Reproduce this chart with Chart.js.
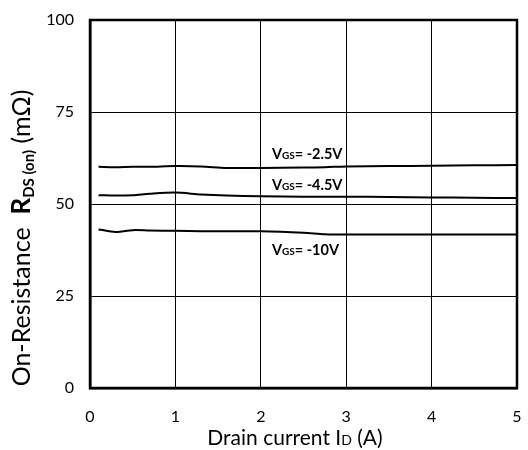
<!DOCTYPE html>
<html lang="en">
<head>
    <meta charset="UTF-8">
    <title>On-Resistance vs Drain current</title>
    <style>
        body { margin: 0; background: #fff; }
        canvas { display: block; }
    </style>
    <script src="https://cdn.jsdelivr.net/npm/chart.js"></script>
</head>
<body>
    <canvas id="rds-chart" width="528" height="450"></canvas>

    <script>
        // drain current (A) sample points
        const drainCurrent = [0.1, 0.3, 0.5, 0.7, 1.0, 1.3, 1.6, 2.0, 2.5, 2.75, 3.0, 3.5, 4.0, 4.5, 5.0];
        const rdsVgs25 = [60.1, 60.0, 60.1, 60.1, 60.3, 60.2, 59.8, 59.8, 59.9, 60.0, 60.2, 60.3, 60.4, 60.5, 60.6];
        const rdsVgs45 = [52.4, 52.3, 52.4, 52.8, 53.1, 52.6, 52.3, 52.1, 52.0, 52.0, 52.0, 51.9, 51.8, 51.7, 51.6];
        const rdsVgs10 = [43.1, 42.4, 42.9, 42.8, 42.7, 42.6, 42.6, 42.6, 42.2, 41.8, 41.7, 41.7, 41.7, 41.7, 41.7];

        const xTicks = [0, 1, 2, 3, 4, 5];
        const yTicks = [0, 25, 50, 75, 100];

        // curve labels: [gate voltage text, anchor x (A), anchor y (mΩ)]
        const curveLabels = [
            ['-2.5V', 2.13, 62.1],
            ['-4.5V', 2.13, 53.8],
            ['-10V', 2.13, 36.1],
        ];

        const FONT = 'Lato, "Open Sans", sans-serif';

        function toPoints(ys) {
            return drainCurrent.map((x, i) => ({ x: x, y: ys[i] }));
        }

        function curve(label, ys) {
            return {
                label: label,
                data: toPoints(ys),
                borderColor: '#000',
                borderWidth: 2,
                pointRadius: 0,
                tension: 0.3,
                fill: false,
            };
        }

        // draws a row of text pieces [text, font, dy] starting at x
        function drawPieces(ctx, pieces, x, y) {
            pieces.forEach(p => {
                ctx.font = p[1];
                ctx.fillText(p[0], x, y + (p[2] || 0));
                x += ctx.measureText(p[0]).width;
            });
        }

        function piecesWidth(ctx, pieces) {
            let w = 0;
            pieces.forEach(p => {
                ctx.font = p[1];
                w += ctx.measureText(p[0]).width;
            });
            return w;
        }

        const framePlugin = {
            id: 'frame',
            afterDatasetsDraw(chart) {
                const ctx = chart.ctx;
                const a = chart.chartArea;
                ctx.save();
                ctx.strokeStyle = '#000';
                ctx.lineWidth = 2.5;
                ctx.strokeRect(a.left, a.top, a.right - a.left, a.bottom - a.top);
                ctx.restore();
            }
        };

        const labelPlugin = {
            id: 'curveLabels',
            afterDatasetsDraw(chart) {
                const ctx = chart.ctx;
                const xs = chart.scales.x, ys = chart.scales.y;
                ctx.save();
                ctx.fillStyle = '#000';
                ctx.textBaseline = 'alphabetic';
                ctx.textAlign = 'left';
                curveLabels.forEach(l => {
                    drawPieces(ctx, [
                        ['V', 'bold 14.5px ' + FONT],
                        ['GS', 'bold 10px ' + FONT],
                        ['= ' + l[0], 'bold 14.5px ' + FONT],
                    ], xs.getPixelForValue(l[1]), ys.getPixelForValue(l[2]));
                });
                ctx.restore();
            }
        };

        const titlePlugin = {
            id: 'axisTitles',
            afterDraw(chart) {
                const ctx = chart.ctx;
                const a = chart.chartArea;
                ctx.save();
                ctx.fillStyle = '#000';
                ctx.textBaseline = 'alphabetic';
                ctx.textAlign = 'left';

                // x axis title
                const xt = [
                    ['Drain current I', '21px ' + FONT],
                    ['D', '14px ' + FONT],
                    [' (A)', '21px ' + FONT],
                ];
                const xw = piecesWidth(ctx, xt);
                drawPieces(ctx, xt, 295 - xw / 2, 445);

                // y axis title, rotated
                const yt = [
                    ['On-Resistance  ', '25px ' + FONT],
                    ['R', 'bold 26px ' + FONT],
                    ['DS (on)', 'bold 15px ' + FONT, 4],
                    [' (mΩ)', '25px ' + FONT],
                ];
                const yw = piecesWidth(ctx, yt);
                ctx.translate(30, 238);
                ctx.rotate(-Math.PI / 2);
                drawPieces(ctx, yt, -yw / 2, 0);
                ctx.restore();
            }
        };

        const ctx = document.getElementById('rds-chart').getContext('2d');
        const chart = new Chart(ctx, {
            type: 'line',
            data: {
                datasets: [
                    curve('VGS = -2.5V', rdsVgs25),
                    curve('VGS = -4.5V', rdsVgs45),
                    curve('VGS = -10V', rdsVgs10),
                ],
            },
            options: {
                responsive: false,
                animation: false,
                layout: { padding: { top: 20, right: 11, left: 0, bottom: 0 } },
                plugins: {
                    legend: { display: false },
                    tooltip: { enabled: false },
                },
                scales: {
                    x: {
                        type: 'linear',
                        min: 0,
                        max: 5,
                        afterBuildTicks(scale) {
                            scale.ticks = xTicks.map(v => ({ value: v }));
                        },
                        afterFit(scale) {
                            scale.height = 62;
                            scale.paddingLeft = 5;
                            scale.paddingRight = 5;
                        },
                        grid: { color: '#000', lineWidth: 1, drawTicks: false },
                        border: { color: '#000', width: 2.5 },
                        ticks: {
                            color: '#000',
                            padding: 19,
                            maxRotation: 0,
                            font: { family: FONT, size: 16 },
                        },
                    },
                    y: {
                        min: 0,
                        max: 100,
                        afterBuildTicks(scale) {
                            scale.ticks = yTicks.map(v => ({ value: v }));
                        },
                        afterFit(scale) {
                            scale.width = 90;
                            scale.paddingTop = 8;
                            scale.paddingBottom = 8;
                        },
                        grid: { color: '#000', lineWidth: 1, drawTicks: false },
                        border: { color: '#000', width: 2.5 },
                        ticks: {
                            color: '#000',
                            padding: 16,
                            font: { family: FONT, size: 16 },
                        },
                    },
                },
            },
            plugins: [framePlugin, labelPlugin, titlePlugin],
        });
    </script>
</body>
</html>
